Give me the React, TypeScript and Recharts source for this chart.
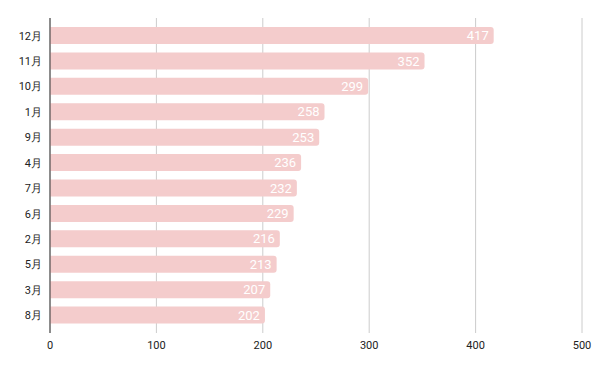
import { BarChart, Bar, XAxis, YAxis, CartesianGrid, LabelList } from 'recharts'

const months = ['12月', '11月', '10月', '1月', '9月', '4月', '7月', '6月', '2月', '5月', '3月', '8月']
const counts = [417, 352, 299, 258, 253, 236, 232, 229, 216, 213, 207, 202]
const xTicks = [0, 100, 200, 300, 400, 500]

const data = months.map((month, i) => ({ month, count: counts[i] }))

export default function App() {
  return (
    <div style={{ position: 'absolute', left: 0, top: 0, background: '#fff' }}>
      <BarChart
        width={600}
        height={371}
        data={data}
        layout="vertical"
        margin={{ top: 18, right: 18, bottom: 8, left: 0 }}
        barSize={17}
      >
        <CartesianGrid horizontal={false} stroke="#cccccc" />
        <XAxis
          type="number"
          domain={[0, 500]}
          ticks={xTicks}
          axisLine={false}
          tickLine={false}
          height={30}
          tick={{ fill: '#222', fontSize: 11, fontFamily: 'Roboto' }}
        />
        <YAxis
          type="category"
          dataKey="month"
          width={50}
          padding={{ top: 5, bottom: 5 }}
          axisLine={{ stroke: '#333' }}
          tickLine={false}
          tick={{ fill: '#222', fontSize: 11, fontFamily: 'Roboto' }}
        />
        <Bar dataKey="count" fill="#f4cccc" radius={[0, 3, 3, 0]} isAnimationActive={false}>
          <LabelList
            dataKey="count"
            position="insideRight"
            offset={5}
            fill="#ffffff"
            style={{ fontSize: 13, fontFamily: 'Roboto' }}
          />
        </Bar>
      </BarChart>
    </div>
  )
}
